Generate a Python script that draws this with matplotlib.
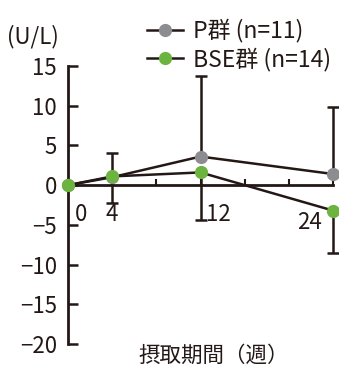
import matplotlib
matplotlib.use("Agg")
import matplotlib.pyplot as plt
from matplotlib.lines import Line2D

plt.rcParams['font.family'] = ['Noto Sans CJK JP', 'DejaVu Sans']

# data
weeks = [0, 4, 12, 24]
p_mean = [0, 1.0, 3.6, 1.4]
bse_mean = [0, 1.1, 1.6, -3.2]
p_err_up = [0, 3.1, 10.1, 8.4]
bse_err_down = [0, 3.4, 6.0, 5.4]
x_tick_labels = ['0', '4', '12', '24']
y_ticks = [15, 10, 5, 0, -5, -10, -15, -20]
legend_labels = ['P群 (n=11)', 'BSE群 (n=14)']
x_label = '摂取期間（週）'
unit_label = '(U/L)'

ink = '#231815'
gray = '#8c8c91'
green = '#6cb33f'

fig = plt.figure(figsize=(3.39, 3.69), dpi=100)
ax = fig.add_axes([68/339, 25/369, 265/339, 278/369])
ax.set_xlim(0, 24)
ax.set_ylim(-20, 15)

for s in ['top', 'right']:
    ax.spines[s].set_visible(False)
ax.spines['bottom'].set_position(('data', 0))
for s in ['left', 'bottom']:
    ax.spines[s].set_linewidth(2.0)
    ax.spines[s].set_color(ink)

# error bars
ax.errorbar(weeks[1:], p_mean[1:], yerr=[[0]*3, p_err_up[1:]], fmt='none',
            ecolor=ink, elinewidth=1.8, capsize=4, capthick=1.8, clip_on=False, zorder=2)
ax.errorbar(weeks[1:], bse_mean[1:], yerr=[bse_err_down[1:], [0]*3], fmt='none',
            ecolor=ink, elinewidth=1.8, capsize=4, capthick=1.8, clip_on=False, zorder=2)

ax.plot(weeks, p_mean, color=ink, lw=1.8, marker='o', ms=9.5, mfc=gray, mec='none',
        clip_on=False, zorder=3)
ax.plot(weeks, bse_mean, color=ink, lw=1.8, marker='o', ms=9.5, mfc=green, mec='none',
        clip_on=False, zorder=4)

ax.set_yticks(y_ticks)
ax.set_yticklabels([str(v).replace('-', '\u2212') for v in y_ticks])
ax.tick_params(axis='y', direction='in', length=7, width=1.8, color=ink,
               labelsize=16, pad=8, labelcolor=ink)
ax.set_xticks([4, 8, 12, 16, 20, 24])
ax.set_xticklabels([])
ax.tick_params(axis='x', direction='in', length=4.5, width=1.5, color=ink)

label_x = [1.15, 4.0, 13.6, 21.9]
label_y = [-3.7, -3.7, -3.7, -4.7]
for lx, ly, t in zip(label_x, label_y, x_tick_labels):
    ax.text(lx, ly, t, ha='center', va='center', fontsize=16, color=ink)

fig.text(138/339, 1 - 356/369, x_label, ha='left', va='center', fontsize=15.5, color=ink)
fig.text(7/339, 1 - 37/369, unit_label, ha='left', va='center', fontsize=16, color=ink)

handles = [Line2D([], [], color=ink, lw=1.8, marker='o', ms=9.5, mfc=gray, mec='none'),
           Line2D([], [], color=ink, lw=1.8, marker='o', ms=9.5, mfc=green, mec='none')]
fig.legend(handles, legend_labels, loc='upper left', bbox_to_anchor=(147/339, 1 - 19/369),
           frameon=False, fontsize=16.5, handlelength=1.55, handletextpad=0.45,
           labelspacing=0.2, borderpad=0, borderaxespad=0, labelcolor=ink)

fig.savefig('out.png', dpi=100)
